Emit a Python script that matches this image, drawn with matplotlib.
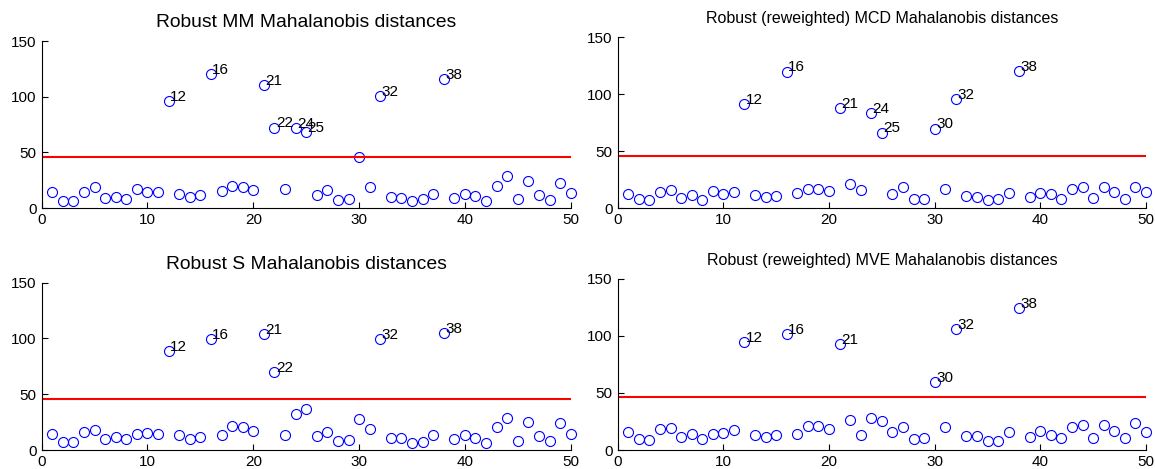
import numpy as np
import matplotlib
matplotlib.use('Agg')
import matplotlib.pyplot as plt

plt.rcParams['font.family'] = ['Liberation Sans', 'DejaVu Sans']

# observation index 1..50
obs = np.arange(1, 51)

# cutoff drawn as a horizontal line
cutoff = 46.0

# robust Mahalanobis distances for each estimator
d_mm = [14.1, 6.6, 6.6, 14.0, 18.6, 9.0, 10.2, 8.1, 16.8, 14.7,
        14.0, 95.8, 12.6, 9.6, 11.4, 120.4, 15.3, 20.0, 18.9, 15.9,
        110.8, 72.2, 16.8, 71.9, 68.3, 11.7, 16.5, 7.5, 8.1, 45.5,
        18.6, 100.6, 10.2, 9.3, 6.3, 8.1, 12.9, 115.9, 9.0, 12.3,
        11.1, 6.6, 19.8, 28.4, 8.1, 24.6, 12.0, 7.5, 22.8, 13.8]

d_mcd = [12.3, 7.6, 6.7, 14.0, 16.1, 8.8, 11.1, 7.3, 14.6, 12.0,
         14.0, 91.5, 11.4, 9.6, 10.5, 119.6, 13.2, 17.0, 16.4, 14.9,
         87.4, 21.0, 16.1, 83.6, 66.1, 12.0, 18.1, 7.9, 7.9, 69.6,
         16.4, 95.3, 10.8, 9.6, 7.0, 7.9, 12.9, 120.2, 9.4, 13.2,
         12.0, 7.6, 16.7, 18.1, 8.5, 18.4, 14.0, 7.9, 18.1, 13.7]

d_s = [14.3, 7.2, 7.5, 15.8, 17.9, 10.2, 12.0, 9.6, 14.3, 15.5,
       14.6, 88.7, 13.1, 10.2, 11.7, 99.2, 13.7, 21.2, 20.9, 17.3,
       103.7, 70.2, 13.4, 32.3, 37.0, 12.8, 15.8, 7.8, 9.0, 27.5,
       18.5, 99.2, 10.5, 10.5, 6.6, 7.5, 13.7, 104.6, 9.9, 13.1,
       11.1, 6.6, 20.3, 28.4, 8.4, 24.8, 12.2, 8.1, 24.5, 14.0]

d_mve = [15.5, 9.6, 8.8, 18.4, 19.3, 11.4, 14.0, 9.9, 14.3, 14.9,
         17.2, 94.5, 13.4, 11.1, 12.8, 101.8, 14.3, 21.0, 21.0, 18.4,
         92.8, 26.3, 13.4, 27.7, 25.7, 15.5, 19.8, 9.3, 10.5, 59.8,
         20.1, 105.6, 12.0, 12.3, 8.2, 8.2, 15.8, 124.3, 11.4, 16.3,
         12.8, 10.2, 19.8, 21.9, 10.5, 22.2, 16.3, 10.5, 23.6, 15.8]

titles = ['Robust MM Mahalanobis distances',
          'Robust (reweighted) MCD Mahalanobis distances',
          'Robust S Mahalanobis distances',
          'Robust (reweighted) MVE Mahalanobis distances']
series = [d_mm, d_mcd, d_s, d_mve]

fig = plt.figure(figsize=(11.55, 4.69), dpi=100)

# [left, bottom, width, height] in figure fractions
boxes = [[0.0361, 0.5565, 0.458, 0.356],
         [0.5348, 0.5565, 0.4574, 0.3646],
         [0.0361, 0.0405, 0.458, 0.3567],
         [0.5348, 0.0405, 0.4574, 0.3652]]
title_size = [13.9, 11.5, 13.9, 11.5]

for box, d, ttl, ts in zip(boxes, series, titles, title_size):
    ax = fig.add_axes(box)
    d = np.array(d)
    ax.plot(obs, d, 'o', mfc='none', mec='#0000ff', ms=7.2, mew=0.8,
            clip_on=False)
    ax.axhline(cutoff, color='#ff0000', lw=1.5)

    # label the units above the cutoff
    for i, v in zip(obs, d):
        if v > cutoff:
            ax.annotate(str(i), (i, v), xytext=(1, 3),
                        textcoords='offset points', ha='left', va='center',
                        fontsize=11)

    ax.set_xlim(0, 50)
    ax.set_ylim(0, 150)
    ax.set_xticks([0, 10, 20, 30, 40, 50])
    ax.set_yticks([0, 50, 100, 150])
    ax.spines['top'].set_visible(False)
    ax.spines['right'].set_visible(False)
    ax.tick_params(direction='in', labelsize=11, length=4, width=0.8)
    ax.set_title(ttl, fontsize=ts, pad=10)

plt.savefig('out.png', dpi=100)
